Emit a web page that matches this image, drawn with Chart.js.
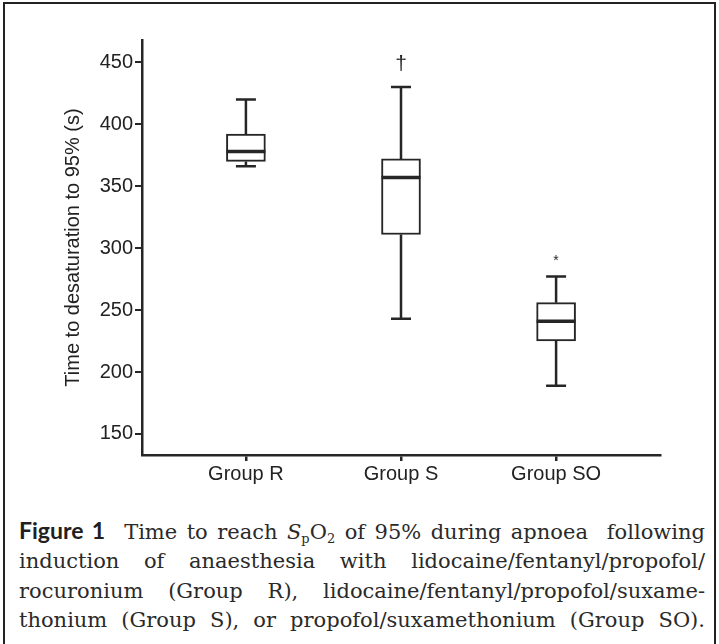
<!DOCTYPE html>
<html>
<head>
<meta charset="utf-8">
<script src="https://cdn.jsdelivr.net/npm/chart.js@4.4.1/dist/chart.umd.min.js"></script>
<style>
  html, body { margin: 0; padding: 0; background: #fff; }
  body { width: 719px; height: 644px; position: relative; overflow: hidden; }
  #frame { position: absolute; left: 3px; top: 2px; width: 713px; height: 700px;
           border: 2px solid #222; box-sizing: border-box; }
  #wrap { position: absolute; left: 0; top: 0; width: 719px; height: 500px; }
  #caption { position: absolute; left: 19px; top: 518px; width: 686px;
             font-family: "DejaVu Serif", "Liberation Serif", serif; font-size: 21px;
             line-height: 29.4px; color: #2a2a2a; }
  #caption div { text-align: justify; text-align-last: justify; }
  #caption b { font-family: "Lato", "Liberation Sans", sans-serif; font-weight: 700; font-size: 23px; line-height: 0; color: #231f20; }
  #caption sub { font-size: 13px; vertical-align: -4px; line-height: 0; }
</style>
</head>
<body>
<div id="frame"></div>
<div id="wrap"><canvas id="c" width="719" height="500"></canvas></div>
<div id="caption">
  <div><b>Figure 1</b>&nbsp; Time to reach <i>S</i><sub>p</sub>O<sub>2</sub> of 95% during apnoea &nbsp;following</div>
  <div>induction of anaesthesia with lidocaine/fentanyl/propofol/</div>
  <div>rocuronium (Group R), lidocaine/fentanyl/propofol/suxame-</div>
  <div>thonium (Group S), or propofol/suxamethonium (Group SO).</div>
</div>
<script>
// ---- data ----
const categories = ['Group R', 'Group S', 'Group SO'];
const whiskerMin = [366, 243, 189];
const quartile1  = [370, 311, 225];
const medians    = [378, 357, 241];
const quartile3  = [392, 372, 256];
const whiskerMax = [420, 430, 277];
const markers    = ['', '\u2020', '*'];
const yTicks     = [150, 200, 250, 300, 350, 400, 450];

const INK = '#262626';
const FONT = "'Liberation Sans', Arial, sans-serif";

const boxData = categories.map((c, i) => ({ x: i + 1, y: [quartile1[i], quartile3[i]] }));

const boxPlugin = {
  id: 'boxParts',
  beforeDatasetsDraw(chart) {
    const { ctx, scales: { x, y } } = chart;
    ctx.save();
    ctx.strokeStyle = INK;
    ctx.lineWidth = 2.5;
    ctx.lineCap = 'butt';
    categories.forEach((c, i) => {
      const px = x.getPixelForValue(i + 1);
      const capHalf = 10;
      ctx.beginPath();
      ctx.moveTo(px, y.getPixelForValue(quartile3[i]));
      ctx.lineTo(px, y.getPixelForValue(whiskerMax[i]));
      ctx.moveTo(px, y.getPixelForValue(quartile1[i]));
      ctx.lineTo(px, y.getPixelForValue(whiskerMin[i]));
      ctx.moveTo(px - capHalf, y.getPixelForValue(whiskerMax[i]));
      ctx.lineTo(px + capHalf, y.getPixelForValue(whiskerMax[i]));
      ctx.moveTo(px - capHalf, y.getPixelForValue(whiskerMin[i]));
      ctx.lineTo(px + capHalf, y.getPixelForValue(whiskerMin[i]));
      ctx.stroke();
    });
    ctx.restore();
  },
  afterDatasetsDraw(chart) {
    const { ctx, scales: { x, y } } = chart;
    ctx.save();
    ctx.strokeStyle = INK;
    ctx.lineWidth = 3.5;
    categories.forEach((c, i) => {
      const px = x.getPixelForValue(i + 1);
      const py = y.getPixelForValue(medians[i]);
      ctx.beginPath();
      ctx.moveTo(px - 19.5, py);
      ctx.lineTo(px + 19.5, py);
      ctx.stroke();
      if (markers[i]) {
        ctx.fillStyle = INK;
        ctx.textAlign = 'center';
        ctx.textBaseline = 'alphabetic';
        const top = y.getPixelForValue(whiskerMax[i]);
        if (markers[i] === '*') {
          ctx.font = '14px ' + FONT;
          ctx.fillText(markers[i], px, top - 12);
        } else {
          ctx.font = '21px ' + FONT;
          ctx.fillText(markers[i], px, top - 17);
        }
      }
    });
    ctx.restore();
  }
};

new Chart(document.getElementById('c'), {
  type: 'bar',
  data: {
    datasets: [{
      data: boxData,
      backgroundColor: '#ffffff',
      borderColor: INK,
      borderWidth: 2,
      borderSkipped: false,
      barThickness: 39
    }]
  },
  plugins: [boxPlugin],
  options: {
    responsive: false,
    animation: false,
    layout: { padding: { left: 0, top: 40, right: 59, bottom: 0 } },
    plugins: { legend: { display: false }, tooltip: { enabled: false } },
    scales: {
      x: {
        type: 'linear',
        offset: false,
        min: 0.33, max: 3.67,
        afterBuildTicks(scale) { scale.ticks = categories.map((c, i) => ({ value: i + 1 })); },
        afterFit(scale) { scale.height = 45; },
        ticks: {
          callback: (v) => categories[v - 1],
          color: '#222', font: { family: FONT, size: 20 }, padding: 1, maxRotation: 0
        },
        grid: { offset: false, drawOnChartArea: false, drawTicks: true, tickLength: 6, color: INK, lineWidth: 2.5 },
        border: { display: true, color: INK, width: 2.5 }
      },
      y: {
        type: 'linear',
        min: 133, max: 468,
        afterBuildTicks(scale) { scale.ticks = yTicks.map(v => ({ value: v })); },
        afterFit(scale) { scale.width = 142; },
        ticks: { color: '#222', font: { family: FONT, size: 20 }, padding: 2 },
        grid: { drawOnChartArea: false, drawTicks: true, tickLength: 7, color: INK, lineWidth: 2 },
        border: { display: true, color: INK, width: 2.5 },
        title: {
          display: true, text: 'Time to desaturation to 95% (s)',
          color: '#222', font: { family: FONT, size: 20 }, padding: { top: 61, bottom: 0 }
        }
      }
    }
  }
});
</script>
</body>
</html>
